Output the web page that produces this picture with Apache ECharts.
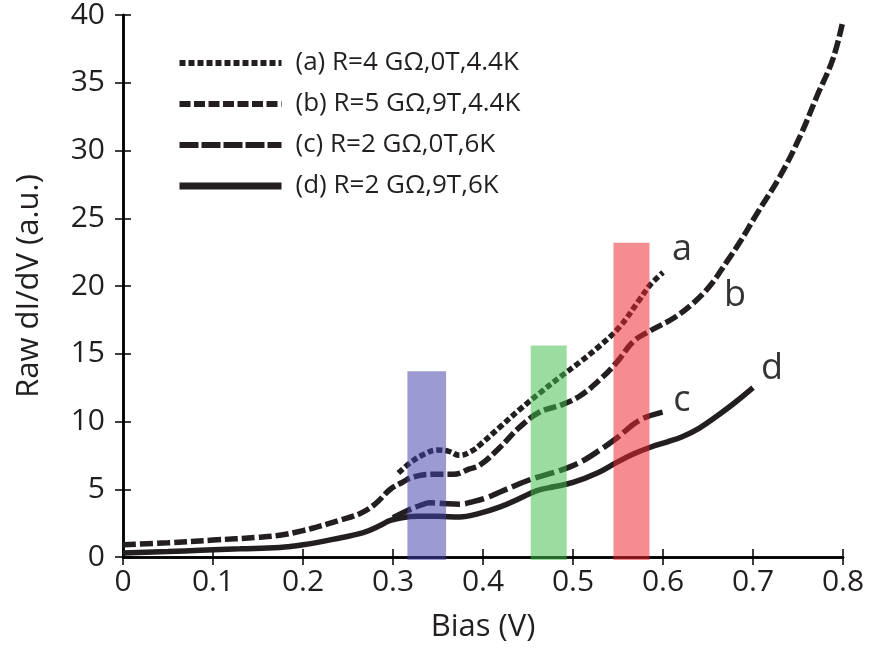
<!DOCTYPE html>
<html>
<head>
<meta charset="utf-8">
<script src="https://cdn.jsdelivr.net/npm/echarts@6/dist/echarts.min.js"></script>
<style>
  html, body { margin: 0; padding: 0; background: #fff; }
  #main { width: 870px; height: 649px; }
</style>
</head>
<body>
<div id="main"></div>
<script>
var FONT = "'Open Sans', sans-serif";
var INK = '#231f20';

// curve (a) R=4 GOhm, 0T, 4.4K
var biasA = [0.306, 0.32, 0.335, 0.349, 0.362, 0.374, 0.387, 0.397, 0.419, 0.441, 0.463, 0.486, 0.508, 0.53, 0.552, 0.574, 0.586, 0.6];
var didvA = [6.2, 7.0, 7.6, 7.9, 7.8, 7.5, 7.8, 8.3, 9.6, 10.9, 12.1, 13.3, 14.4, 15.6, 17.0, 19.0, 20.1, 21.0];

// curve (b) R=5 GOhm, 9T, 4.4K
var biasB = [0, 0.05, 0.1, 0.15, 0.174, 0.2, 0.215, 0.24, 0.263, 0.28, 0.297, 0.31, 0.322, 0.344, 0.367, 0.385, 0.397, 0.419, 0.441, 0.463, 0.486, 0.508, 0.53, 0.549, 0.567, 0.586, 0.611, 0.633, 0.652, 0.671, 0.686, 0.704, 0.73, 0.752, 0.771, 0.789, 0.8];
var didvB = [0.9, 1.05, 1.25, 1.45, 1.6, 1.95, 2.2, 2.7, 3.2, 3.9, 5.0, 5.5, 5.9, 6.1, 6.1, 6.5, 6.8, 8.1, 9.6, 10.7, 11.2, 11.9, 13.1, 14.4, 15.9, 16.7, 17.6, 18.7, 20.0, 21.8, 23.3, 25.3, 28.1, 31.0, 34.0, 36.8, 39.6];

// curve (c) R=2 GOhm, 0T, 6K
var biasC = [0.3, 0.315, 0.33, 0.341, 0.355, 0.374, 0.39, 0.405, 0.419, 0.452, 0.486, 0.508, 0.53, 0.549, 0.574, 0.6];
var didvC = [2.9, 3.4, 3.8, 4.0, 3.95, 3.9, 4.1, 4.4, 4.8, 5.7, 6.4, 7.0, 7.9, 8.8, 10.1, 10.7];

// curve (d) R=2 GOhm, 9T, 6K
var biasD = [0, 0.05, 0.086, 0.13, 0.174, 0.2, 0.233, 0.267, 0.285, 0.297, 0.31, 0.327, 0.35, 0.374, 0.395, 0.419, 0.44, 0.46, 0.48, 0.5, 0.527, 0.549, 0.567, 0.586, 0.605, 0.622, 0.64, 0.66, 0.68, 0.7];
var didvD = [0.3, 0.4, 0.5, 0.6, 0.7, 0.9, 1.3, 1.8, 2.3, 2.7, 2.9, 3.0, 3.0, 2.95, 3.2, 3.7, 4.3, 4.9, 5.2, 5.5, 6.2, 7.0, 7.6, 8.1, 8.5, 8.9, 9.5, 10.4, 11.4, 12.5];

var seriesNames = ['(a) R=4 GΩ,0T,4.4K', '(b) R=5 GΩ,9T,4.4K', '(c) R=2 GΩ,0T,6K', '(d) R=2 GΩ,9T,6K'];

// shaded bias windows: start, end, height
var bandStart = [0.316, 0.453, 0.545];
var bandEnd = [0.359, 0.493, 0.585];
var bandTop = [13.7, 15.6, 23.2];
var bandColors = ['rgba(66,66,170,0.53)', 'rgba(66,189,75,0.53)', 'rgba(236,38,47,0.53)'];

// curve tags
var tagText = ['a', 'b', 'c', 'd'];
var tagX = [0.621, 0.68, 0.621, 0.721];
var tagY = [22.7, 19.3, 11.5, 13.9];

function zip(xs, ys) {
  return xs.map(function (x, i) { return [x, ys[i]]; });
}

var chart = echarts.init(document.getElementById('main'));

function lineSeries(name, xs, ys, dash) {
  return {
    name: name,
    type: 'line',
    data: zip(xs, ys),
    smooth: 0.4,
    symbol: 'none',
    color: INK,
    z: 2,
    lineStyle: { color: INK, width: 5.5, type: dash, cap: 'butt' }
  };
}

var option = {
  animation: false,
  grid: { left: 123, right: 27, top: 15, bottom: 92 },
  legend: {
    orient: 'vertical',
    left: 176,
    top: 48,
    padding: 0,
    itemWidth: 102,
    itemHeight: 14,
    itemGap: 11,
    textStyle: { fontFamily: FONT, fontSize: 26, color: INK, lineHeight: 30, padding: [0, 0, 0, 9] },
    itemStyle: { color: 'rgba(0,0,0,0)', borderWidth: 0 },
    lineStyle: { width: 6 },
    data: [
      { name: seriesNames[0], lineStyle: { type: [6, 3] } },
      { name: seriesNames[1], lineStyle: { type: [11, 3.5] } },
      { name: seriesNames[2], lineStyle: { type: [19, 3] } },
      { name: seriesNames[3], lineStyle: { type: 'solid', width: 7 } }
    ]
  },
  xAxis: [{
    type: 'value',
    min: 0, max: 0.8, interval: 0.1,
    name: 'Bias (V)',
    nameLocation: 'middle',
    nameGap: 55,
    nameTextStyle: { fontFamily: FONT, fontSize: 31, color: INK },
    axisLine: { lineStyle: { color: '#000', width: 2.5 } },
    axisTick: { inside: true, length: 8, lineStyle: { color: '#000', width: 1.5 } },
    axisLabel: { fontFamily: FONT, fontSize: 30, color: INK, margin: 10 },
    splitLine: { show: false }
  }, {
    type: 'value', position: 'top',
    min: 0, max: 0.8, interval: 0.1,
    axisLine: { show: true, lineStyle: { color: '#000', width: 2.5 } },
    axisTick: { inside: true, length: 8, lineStyle: { color: '#000', width: 1.5 } },
    axisLabel: { show: false },
    splitLine: { show: false }
  }],
  yAxis: [{
    type: 'value',
    min: 0, max: 40, interval: 5,
    name: 'Raw dI/dV (a.u.)',
    nameLocation: 'middle',
    nameGap: 78,
    nameTextStyle: { fontFamily: FONT, fontSize: 31, color: INK },
    axisLine: { show: true, lineStyle: { color: '#000', width: 2.5 } },
    axisTick: { show: true, inside: true, length: 8, lineStyle: { color: '#000', width: 1.5 } },
    axisLabel: { fontFamily: FONT, fontSize: 30, color: INK, margin: 18 },
    splitLine: { show: false }
  }, {
    type: 'value', position: 'right',
    min: 0, max: 40, interval: 5,
    axisLine: { show: true, lineStyle: { color: '#000', width: 2.5 } },
    axisTick: { show: true, inside: true, length: 8, lineStyle: { color: '#000', width: 1.5 } },
    axisLabel: { show: false },
    splitLine: { show: false }
  }],
  series: [
    lineSeries(seriesNames[0], biasA, didvA, [6, 3]),
    lineSeries(seriesNames[1], biasB, didvB, [13, 4]),
    lineSeries(seriesNames[2], biasC, didvC, [20, 5]),
    lineSeries(seriesNames[3], biasD, didvD, 'solid'),
    {
      type: 'custom',
      name: 'bands',
      z: 5,
      silent: true,
      data: bandStart.map(function (s, i) { return [s, bandEnd[i], bandTop[i]]; }),
      renderItem: function (params, api) {
        var p0 = api.coord([api.value(0), 0]);
        var p1 = api.coord([api.value(1), api.value(2)]);
        return {
          type: 'rect',
          shape: { x: p0[0], y: p1[1], width: p1[0] - p0[0], height: p0[1] - p1[1] + 3 },
          style: { fill: bandColors[params.dataIndex] }
        };
      }
    },
    {
      type: 'scatter',
      name: 'tags',
      symbolSize: 0,
      silent: true,
      z: 6,
      data: tagText.map(function (t, i) { return { name: t, value: [tagX[i], tagY[i]] }; }),
      label: {
        show: true,
        position: 'inside',
        formatter: '{b}',
        fontFamily: FONT,
        fontSize: 36,
        color: '#000'
      }
    }
  ]
};

chart.setOption(option);
</script>
</body>
</html>
